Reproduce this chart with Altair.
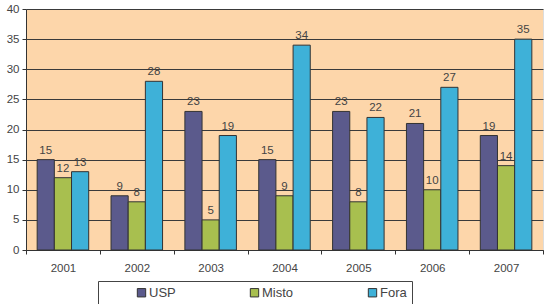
import altair as alt
import pandas as pd

years = ["2001", "2002", "2003", "2004", "2005", "2006", "2007"]
series = ["USP", "Misto", "Fora"]
usp = [15, 9, 23, 15, 23, 21, 19]
misto = [12, 8, 5, 9, 8, 10, 14]
fora = [13, 28, 19, 34, 22, 27, 35]
colors = ["#5b5a8c", "#a8bf4f", "#3eb1d8"]

rows = []
for name, vals in zip(series, [usp, misto, fora]):
    for y, v in zip(years, vals):
        rows.append({"ano": y, "grupo": name, "valor": v})
df = pd.DataFrame(rows)

x = alt.X("ano:N", title=None, sort=years,
          scale=alt.Scale(paddingInner=0, paddingOuter=0),
          axis=alt.Axis(labelAngle=0, tickBand="extent", labelPadding=8,
                        labelFontSize=11.5, labelColor="#444", labelFont="Liberation Sans",
                        domainColor="#333", tickColor="#333", tickSize=4))
xo = alt.XOffset("grupo:N", sort=series, scale=alt.Scale(paddingOuter=0.65, paddingInner=0))
y = alt.Y("valor:Q", title=None,
          scale=alt.Scale(domain=[0, 40]),
          axis=alt.Axis(values=list(range(0, 45, 5)), labelFontSize=11.5, labelColor="#444",
                        labelFont="Liberation Sans", gridColor="#3a3a3a", gridWidth=1,
                        domainColor="#333", tickColor="#333", tickSize=4, labelPadding=3))

color = alt.Color("grupo:N", sort=series,
                  scale=alt.Scale(domain=series, range=colors),
                  legend=alt.Legend(orient="none", direction="horizontal",
                                    legendX=72, legendY=272,
                                    title=" ", titleOrient="left", titlePadding=32,
                                    symbolType="square",
                                    symbolSize=70, symbolStrokeColor="#333",
                                    symbolStrokeWidth=1, labelFontSize=13,
                                    labelColor="#444", labelFont="Liberation Sans",
                                    columnPadding=72, padding=5,
                                    strokeColor="#444", fillColor="white",
                                    labelOffset=1))

bars = alt.Chart(df).mark_bar(stroke="#333", strokeWidth=1).encode(
    x=x, xOffset=xo, y=y, color=color)

labels = alt.Chart(df).mark_text(dy=-9, fontSize=11.5, color="#444",
                                 font="Liberation Sans").encode(
    x=x, xOffset=xo, y=y, text="valor:Q")

chart = (bars + labels).properties(
    width=517, height=241,
    background="white",
    autosize=alt.AutoSizeParams(type="none"),
    padding={"left": 26, "top": 9, "right": 5, "bottom": 54},
).configure_view(fill="#fdd6aa", stroke="#dcdcdc")

chart.save("out.html", embed_options={"renderer": "svg", "actions": False})
